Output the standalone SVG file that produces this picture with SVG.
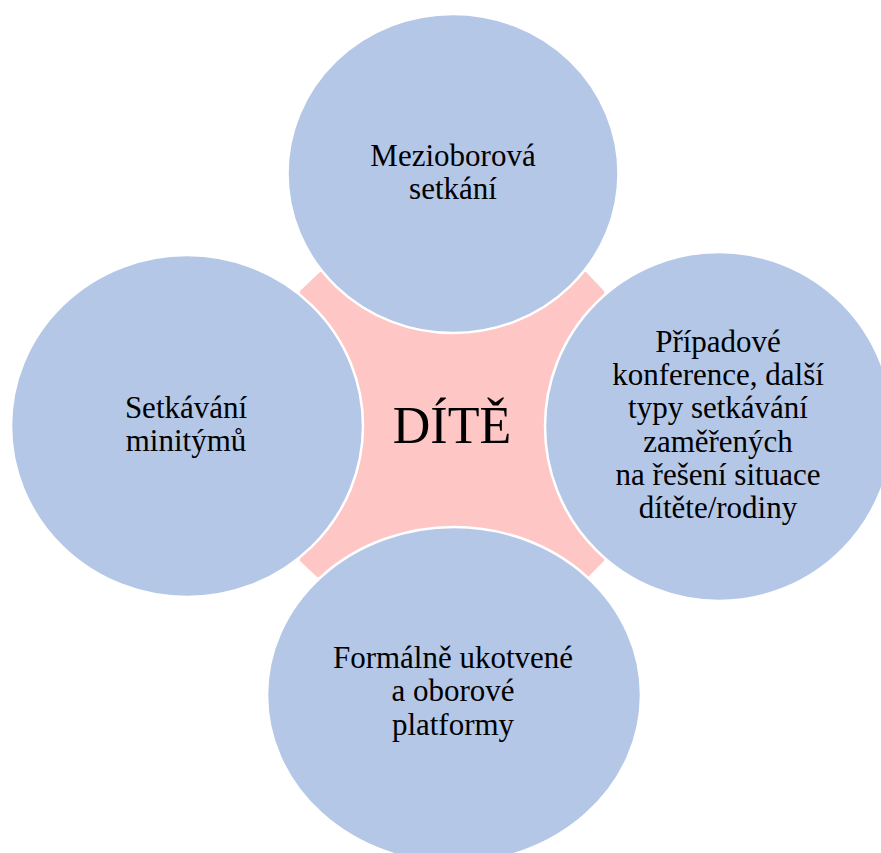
<svg xmlns="http://www.w3.org/2000/svg" width="881" height="853" viewBox="0 0 881 853">
<style>
.node{fill:#B4C7E7;stroke:#FFFFFF;stroke-width:2.5}
.center{fill:#FFC6C6;stroke:none}
.lbl{font-size:31px}
.big{font-size:52px}
</style>
<rect width="881" height="853" fill="#FFFFFF"/>
<g id="connectors"></g>
<g id="center">
<polygon class="center" points="320,272 586,272 604,291 604,561 588,577 317,577 300,561 300,291"/>
</g>
<g font-family="'Liberation Serif', Tinos, 'Times New Roman', 'DejaVu Serif', serif" fill="#000000" text-anchor="middle">
<g id="node-top">
<ellipse class="node" cx="453" cy="173.5" rx="165.5" ry="159.5"/>
<text class="lbl" x="453" y="166">Mezioborová</text>
<text class="lbl" x="453" y="199">setkání</text>
</g>
<g id="node-left">
<ellipse class="node" cx="187" cy="426" rx="176" ry="171"/>
<text class="lbl" x="186" y="418">Setkávání</text>
<text class="lbl" x="186" y="451">minitýmů</text>
</g>
<g id="node-right">
<ellipse class="node" cx="719" cy="426.5" rx="174" ry="174.5"/>
<text class="lbl" x="718" y="352">Případové</text>
<text class="lbl" x="718" y="385.2">konference, další</text>
<text class="lbl" x="718" y="418.4">typy setkávání</text>
<text class="lbl" x="718" y="451.6">zaměřených</text>
<text class="lbl" x="718" y="484.8">na řešení situace</text>
<text class="lbl" x="718" y="518">dítěte/rodiny</text>
</g>
<g id="node-bottom">
<ellipse class="node" cx="454" cy="695" rx="187" ry="168"/>
<text class="lbl" x="453" y="668">Formálně ukotvené</text>
<text class="lbl" x="453" y="701">a oborové</text>
<text class="lbl" x="453" y="735">platformy</text>
</g>
<g id="label-center">
<text class="big" x="452" y="443">DÍTĚ</text>
</g>
</g>
</svg>
